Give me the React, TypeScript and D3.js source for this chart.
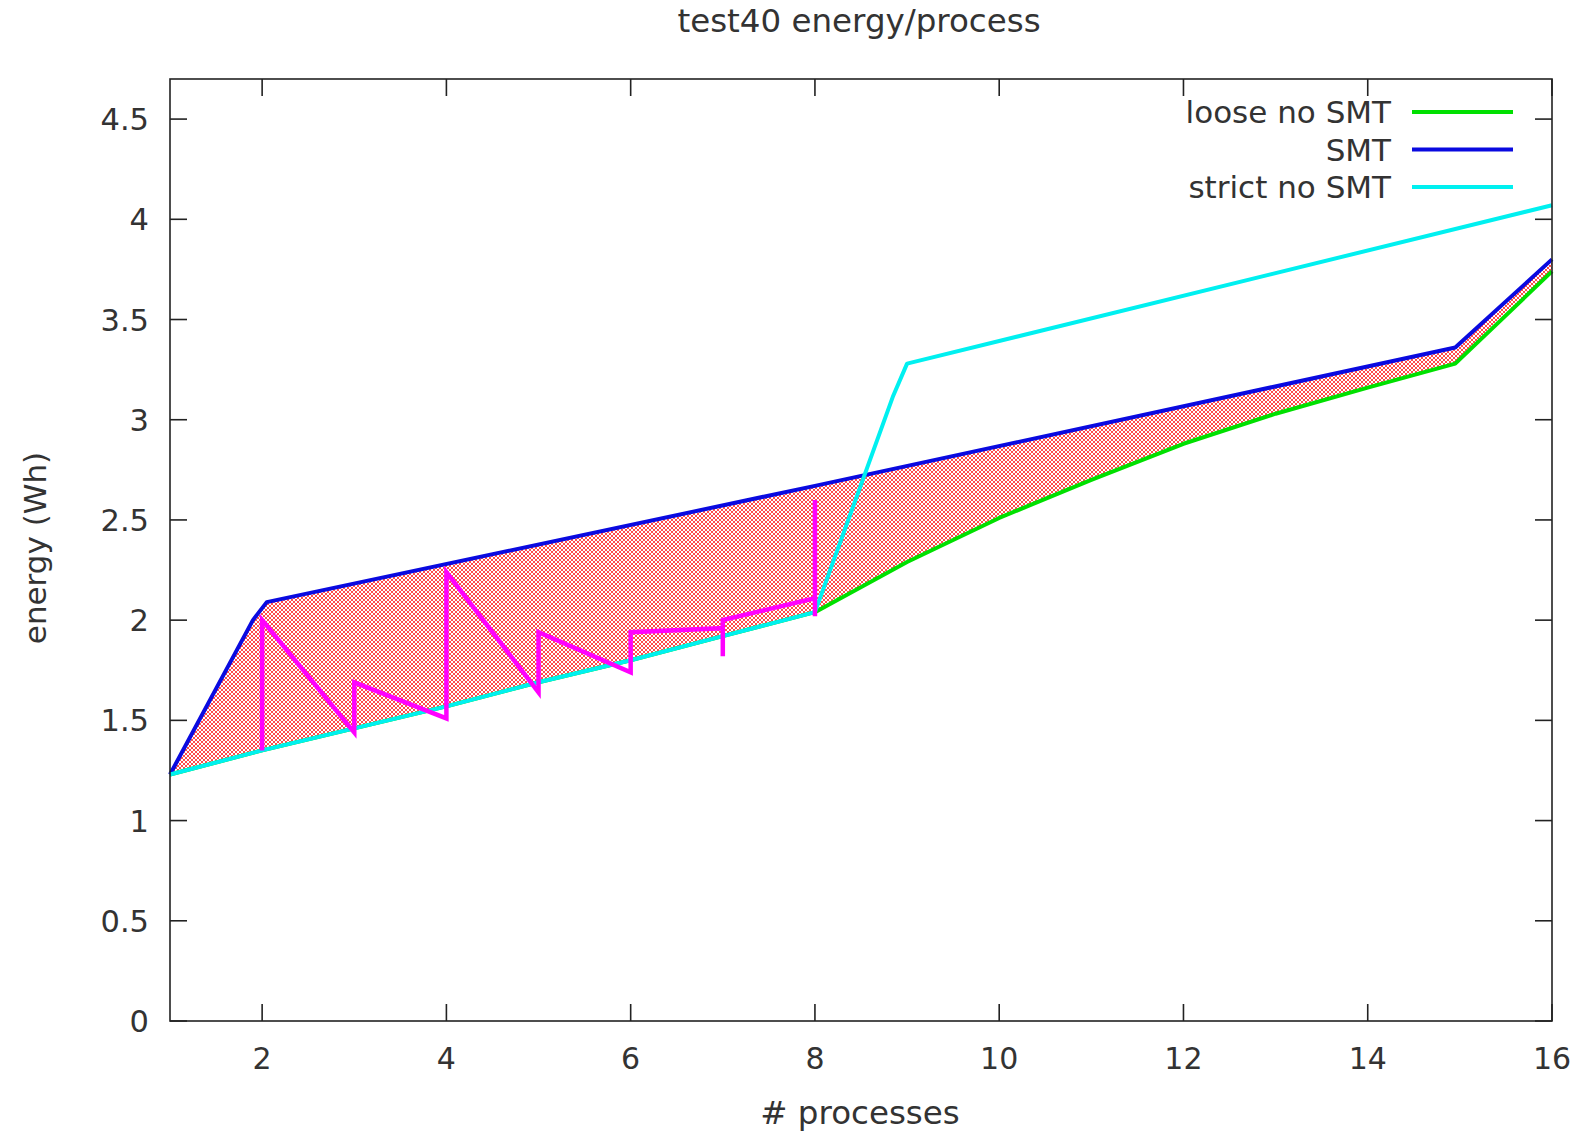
import * as d3 from "d3"
import { useEffect, useRef } from "react"
import React = require("react")

// process counts / energy (Wh)
const looseX = [1, 2, 3, 4, 5, 6, 7, 8, 9, 10, 11, 12, 13, 14, 14.95, 16]
const looseY = [1.23, 1.35, 1.46, 1.57, 1.69, 1.8, 1.92, 2.04, 2.29, 2.51, 2.7, 2.88, 3.03, 3.16, 3.28, 3.74]

const smtX = [1, 1.9, 2.05, 8, 14.95, 16]
const smtY = [1.23, 2.0, 2.09, 2.67, 3.36, 3.8]

const strictX = [1, 2, 3, 4, 5, 6, 7, 8, 8.85, 9, 16]
const strictY = [1.23, 1.35, 1.46, 1.57, 1.69, 1.8, 1.92, 2.04, 3.12, 3.28, 4.07]

// magenta zigzag
const zigX = [2, 2, 3, 3, 4, 4, 5, 5, 6, 6, 7, 7, 7, 8, 8, 8]
const zigY = [1.35, 2.0, 1.44, 1.69, 1.51, 2.24, 1.64, 1.94, 1.74, 1.94, 1.96, 1.82, 2.0, 2.11, 2.6, 2.02]

const xTicks = [2, 4, 6, 8, 10, 12, 14, 16]
const yTicks = [0, 0.5, 1, 1.5, 2, 2.5, 3, 3.5, 4, 4.5]

const legend = [
    { name: "loose no SMT", color: "#00e000" },
    { name: "SMT", color: "#0a0ae0" },
    { name: "strict no SMT", color: "#00f0f0" },
]

const zip = (xs: number[], ys: number[]) => xs.map((x, i) => [x, ys[i]] as [number, number])

const App = () => {
    const svgRef = useRef(null)

    useEffect(() => {
        const width = 1589
        const height = 1132
        const margin = { top: 79, right: 37, bottom: 111, left: 170 }
        const font = "'DejaVu Sans', Verdana, sans-serif"
        const ink = "#333"

        const svg = d3.select(svgRef.current)
            .attr("width", width)
            .attr("height", height)
            .style("background", "#fff")
        svg.selectAll("*").remove()

        const x = d3.scaleLinear().domain([1, 16]).range([margin.left, width - margin.right])
        const y = d3.scaleLinear().domain([0, 4.7]).range([height - margin.bottom, margin.top])

        // crosshatch pattern for the fill
        const pat = svg.append("defs").append("pattern")
            .attr("id", "hatch")
            .attr("patternUnits", "userSpaceOnUse")
            .attr("width", 4).attr("height", 4)
        pat.append("rect").attr("width", 4).attr("height", 4).attr("fill", "#fff")
        pat.append("path")
            .attr("d", "M-1,-1 L5,5 M5,-1 L-1,5")
            .attr("stroke", "#ff2a2a").attr("stroke-width", 0.85)

        const line = d3.line<[number, number]>().x(d => x(d[0])).y(d => y(d[1]))

        const loose = zip(looseX, looseY)
        const smt = zip(smtX, smtY)
        const strict = zip(strictX, strictY)

        // filled region between SMT and loose
        svg.append("path")
            .attr("d", line(smt.concat(loose.slice().reverse())) + "Z")
            .attr("fill", "url(#hatch)")
            .attr("stroke", "none")

        const lines = [loose, smt, strict]
        lines.forEach((pts, i) => {
            svg.append("path")
                .attr("d", line(pts))
                .attr("fill", "none")
                .attr("stroke", legend[i].color)
                .attr("stroke-width", 4)
                .attr("stroke-linejoin", "round")
        })

        svg.append("path")
            .attr("d", line(zip(zigX, zigY)))
            .attr("fill", "none")
            .attr("stroke", "#ff00ff")
            .attr("stroke-width", 4.5)

        // frame
        const x0 = margin.left, x1 = width - margin.right
        const y0 = height - margin.bottom, y1 = margin.top
        svg.append("rect")
            .attr("x", x0).attr("y", y1)
            .attr("width", x1 - x0).attr("height", y0 - y1)
            .attr("fill", "none").attr("stroke", "#222").attr("stroke-width", 1.6)

        // ticks (inward, all sides)
        const tickLen = 17
        xTicks.forEach(t => {
            svg.append("line").attr("x1", x(t)).attr("x2", x(t)).attr("y1", y0).attr("y2", y0 - tickLen)
                .attr("stroke", "#222").attr("stroke-width", 1.6)
            svg.append("line").attr("x1", x(t)).attr("x2", x(t)).attr("y1", y1).attr("y2", y1 + tickLen)
                .attr("stroke", "#222").attr("stroke-width", 1.6)
            svg.append("text").attr("x", x(t)).attr("y", y0 + 48)
                .attr("text-anchor", "middle").attr("font-family", font).attr("font-size", 30)
                .attr("fill", ink).text(t)
        })
        yTicks.forEach(t => {
            svg.append("line").attr("x1", x0).attr("x2", x0 + tickLen).attr("y1", y(t)).attr("y2", y(t))
                .attr("stroke", "#222").attr("stroke-width", 1.6)
            svg.append("line").attr("x1", x1).attr("x2", x1 - tickLen).attr("y1", y(t)).attr("y2", y(t))
                .attr("stroke", "#222").attr("stroke-width", 1.6)
            svg.append("text").attr("x", x0 - 21).attr("y", y(t) + 11)
                .attr("text-anchor", "end").attr("font-family", font).attr("font-size", 30.5)
                .attr("fill", ink).text(t)
        })

        // legend
        legend.forEach((l, i) => {
            const ly = 112 + i * 37.5
            svg.append("text").attr("x", 1391).attr("y", ly + 11)
                .attr("text-anchor", "end").attr("font-family", font).attr("font-size", 31)
                .attr("fill", ink).text(l.name)
            svg.append("line").attr("x1", 1412).attr("x2", 1513).attr("y1", ly).attr("y2", ly)
                .attr("stroke", l.color).attr("stroke-width", 4)
        })

        // titles
        svg.append("text").attr("x", 859).attr("y", 32)
            .attr("text-anchor", "middle").attr("font-family", font).attr("font-size", 32.5)
            .attr("fill", ink).text("test40 energy/process")
        svg.append("text").attr("x", 860).attr("y", 1124)
            .attr("text-anchor", "middle").attr("font-family", font).attr("font-size", 32.5)
            .attr("fill", ink).text("# processes")
        svg.append("text").attr("transform", "translate(46,548) rotate(-90)")
            .attr("text-anchor", "middle").attr("font-family", font).attr("font-size", 31)
            .attr("fill", ink).text("energy (Wh)")
    }, [])

    return <svg ref={svgRef} style={{ position: "absolute", left: 0, top: 0 }}></svg>
}

export default App
